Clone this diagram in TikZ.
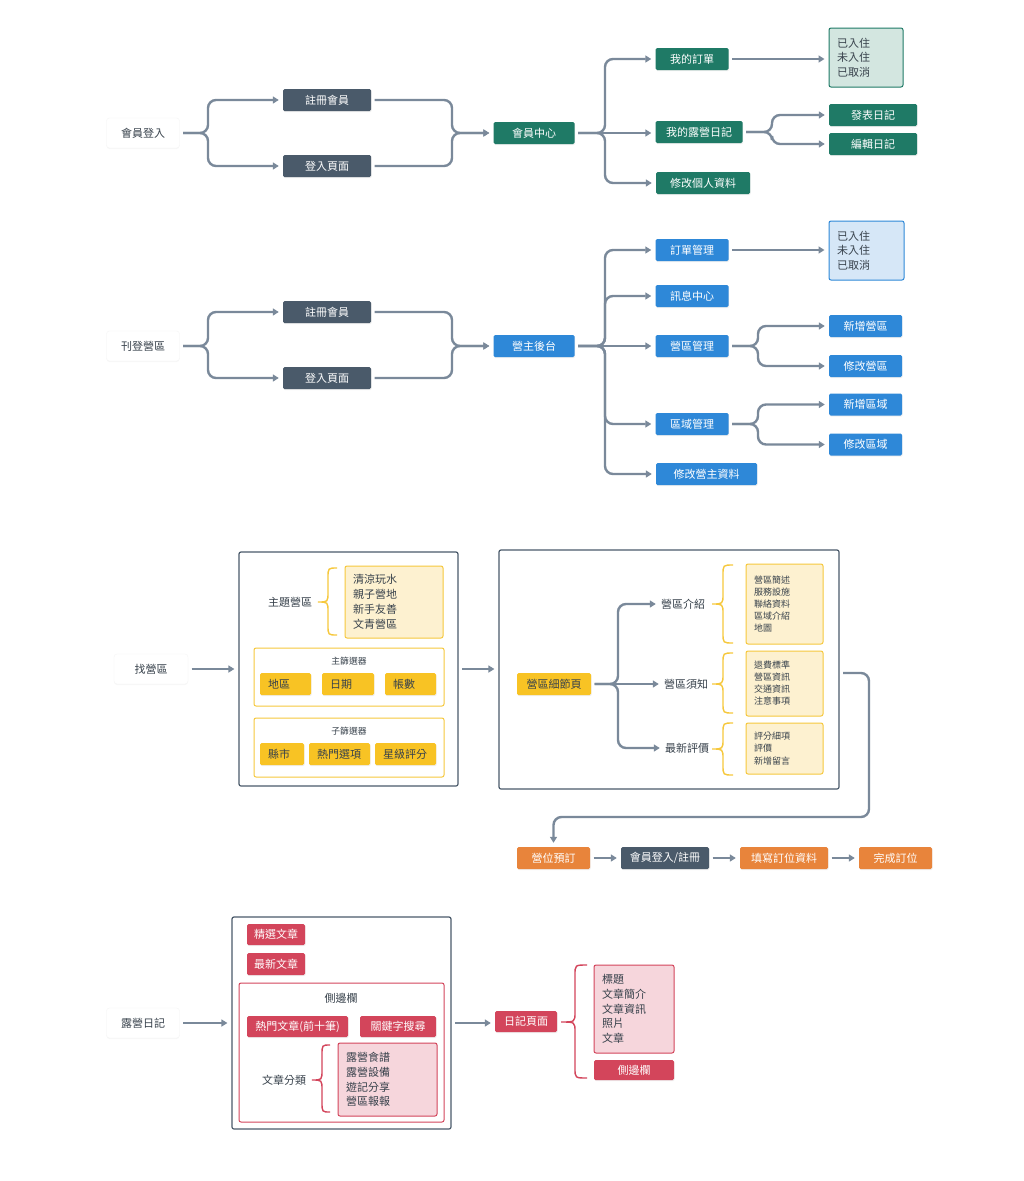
\documentclass[tikz,border=0pt]{standalone}
\usepackage{fontspec}
\setmainfont{Noto Sans CJK TC}
\usetikzlibrary{arrows.meta,shadows,calc}
\definecolor{slateC}{HTML}{4A5A6A}
\definecolor{lineC}{HTML}{7A899A}
\definecolor{greenC}{HTML}{1F7A66}
\definecolor{greenL}{HTML}{D3E6E0}
\definecolor{blueC}{HTML}{2E88D8}
\definecolor{blueL}{HTML}{D6E7F7}
\definecolor{yelC}{HTML}{F8C324}
\definecolor{yelL}{HTML}{FDF1D0}
\definecolor{yelB}{HTML}{F6C83D}
\definecolor{oraC}{HTML}{E8843B}
\definecolor{redC}{HTML}{D3455B}
\definecolor{pinkL}{HTML}{F6D6DC}
\definecolor{txtC}{HTML}{37414B}
\newcommand\mybrace[7]{\draw[#1] (#2,#5) .. controls (#3,#5) .. ({#3},{#5+10}) -- ({#3},{#6-10}) .. controls (#3,#6) .. (#4,#6) .. controls (#3,#6) .. ({#3},{#6+10}) -- ({#3},{#7-10}) .. controls (#3,#7) .. (#2,#7);}
\tikzset{
 f/.style={font=\fontsize{11}{12}\selectfont},
 fs/.style={font=\fontsize{8.8}{12}\selectfont},
 shad/.style={drop shadow={opacity=0.12,shadow xshift=0.6pt,shadow yshift=-1.2pt}},
 btn/.style={f, shad, rounded corners=1.5pt, minimum height=22pt, inner sep=0pt, text=white},
 slatebtn/.style={btn, fill=slateC},
 greenbtn/.style={btn, fill=greenC},
 bluebtn/.style={btn, fill=blueC},
 orabtn/.style={btn, fill=oraC},
 redbtn/.style={btn, fill=redC},
 yelbtn/.style={btn, fill=yelC, text=txtC},
 startbox/.style={f, fill=white, draw=black!4, rounded corners=3pt, minimum height=30pt, minimum width=73pt, inner sep=0pt, text=txtC, drop shadow={opacity=0.06, shadow xshift=0pt, shadow yshift=-1pt}},
 conn/.style={draw=lineC, line width=2.4pt, rounded corners=8pt, -{Triangle[length=6pt,width=7pt]}, shorten <=3.5pt, shorten >=4pt},
 bigbox/.style={draw=slateC, line width=1.2pt, rounded corners=2pt, fill=white, inner sep=0pt},
 framebox/.style={line width=1pt, rounded corners=2pt, inner sep=0pt, fill=white},
 listbox/.style={align=left, inner xsep=8pt, inner ysep=0pt, rounded corners=2pt, line width=1pt, text=txtC},
 lbl/.style={f, text=txtC, inner sep=1pt},
 ybr/.style={draw=yelB, line width=1.4pt},
 rbr/.style={draw=redC, line width=1.4pt},
}
\begin{document}
\begin{tikzpicture}[x=1pt,y=-1pt]
\fill[white] (0,0) rectangle (1024,1181);
\useasboundingbox (0,0) rectangle (1024,1181);

% ---------- Section 1 ----------
\node[startbox] (login) at (143,133) {會員登入};
\node[slatebtn, minimum width=88pt] (reg1) at (327,100) {註冊會員};
\node[slatebtn, minimum width=88pt] (lp1) at (327,166) {登入頁面};
\node[greenbtn, minimum width=81pt] (mc) at (534,133) {會員中心};
\node[greenbtn, minimum width=73pt] (myo) at (692,59) {我的訂單};
\node[greenbtn, minimum width=87pt] (myd) at (699,132) {我的露營日記};
\node[greenbtn, minimum width=94pt] (mye) at (703,183) {修改個人資料};
\node[listbox, fill=greenL, draw=greenC, text width=58pt, minimum height=59pt, font=\fontsize{11}{14.5}\selectfont] (st1) at (866,57.5) {已入住\\未入住\\已取消};
\node[greenbtn, minimum width=88pt] (pub) at (873,115) {發表日記};
\node[greenbtn, minimum width=88pt] (edt) at (873,144) {編輯日記};

\draw[conn] (login.east) -- (208,133) |- (reg1.west);
\draw[conn] (login.east) -- (208,133) |- (lp1.west);
\draw[conn] (reg1.east) -| (452,133) -- (mc.west);
\draw[conn] (lp1.east) -| (452,133) -- (mc.west);
\draw[conn] (mc.east) -- (605,133) |- (myo.west);
\draw[conn] (mc.east) -- (mc.east -| myd.west);
\draw[conn] (mc.east) -- (605,133) |- (mye.west);
\draw[conn] (myo.east) -- (myo.east -| st1.west);
\draw[conn] (myd.east) -- (772,132) |- (pub.west);
\draw[conn] (myd.east) -- (772,132) |- (edt.west);

% ---------- Section 2 ----------
\node[startbox] (post) at (143,346) {刊登營區};
\node[slatebtn, minimum width=88pt] (reg2) at (327,312) {註冊會員};
\node[slatebtn, minimum width=88pt] (lp2) at (327,378) {登入頁面};
\node[bluebtn, minimum width=81pt] (host) at (534,346) {營主後台};
\node[bluebtn, minimum width=73pt] (ord) at (692,250) {訂單管理};
\node[bluebtn, minimum width=73pt] (msg) at (692,296) {訊息中心};
\node[bluebtn, minimum width=73pt] (camp) at (692,346) {營區管理};
\node[bluebtn, minimum width=73pt] (area) at (692,424) {區域管理};
\node[bluebtn, minimum width=101pt] (hed) at (706.5,474) {修改營主資料};
\node[listbox, fill=blueL, draw=blueC, text width=59pt, minimum height=59pt, font=\fontsize{11}{14.5}\selectfont] (st2) at (866.5,250.5) {已入住\\未入住\\已取消};
\node[bluebtn, minimum width=73pt] (nc) at (865.5,326) {新增營區};
\node[bluebtn, minimum width=73pt] (ec) at (865.5,366) {修改營區};
\node[bluebtn, minimum width=73pt] (na) at (865.5,404.5) {新增區域};
\node[bluebtn, minimum width=73pt] (ea) at (865.5,444.5) {修改區域};

\draw[conn] (post.east) -- (208,346) |- (reg2.west);
\draw[conn] (post.east) -- (208,346) |- (lp2.west);
\draw[conn] (reg2.east) -| (452,346) -- (host.west);
\draw[conn] (lp2.east) -| (452,346) -- (host.west);
\draw[conn] (host.east) -- (605,346) |- (ord.west);
\draw[conn] (host.east) -- (605,346) |- (msg.west);
\draw[conn] (host.east) -- (camp.west);
\draw[conn] (host.east) -- (605,346) |- (area.west);
\draw[conn] (host.east) -- (605,346) |- (hed.west);
\draw[conn] (ord.east) -- (ord.east -| st2.west);
\draw[conn] (camp.east) -- (758,346) |- (nc.west);
\draw[conn] (camp.east) -- (758,346) |- (ec.west);
\draw[conn] (area.east) -- (758,424) |- (na.west);
\draw[conn] (area.east) -- (758,424) |- (ea.west);

% ---------- Section 3 ----------
\node[startbox, minimum width=74pt] (find) at (151,669) {找營區};
\node[bigbox, minimum width=219pt, minimum height=234pt] (lb) at (348.5,669) {};
\node[lbl] (theme) at (290,602) {主題營區};
\mybrace{ybr}{337}{328}{318}{568}{602}{635}
\node[listbox, fill=yelL, draw=yelB, text width=82pt, minimum height=72pt, font=\fontsize{11}{15}\selectfont] (themes) at (394,602) {清涼玩水\\親子營地\\新手友善\\文青營區};
\node[framebox, draw=yelB, minimum width=190pt, minimum height=58pt] (mf) at (349,677) {};
\node[fs, text=txtC] (mft) at (349,661) {主篩選器};
\node[yelbtn, minimum width=51pt, text width=35pt, align=left] (b1) at (285.5,684) {地區};
\node[yelbtn, minimum width=52pt, text width=36pt, align=left] (b2) at (348,684) {日期};
\node[yelbtn, minimum width=51pt, text width=35pt, align=left] (b3) at (410.5,684) {帳數};
\node[framebox, draw=yelB, minimum width=190pt, minimum height=59pt] (sf) at (349,747.5) {};
\node[fs, text=txtC] (sft) at (349,731) {子篩選器};
\node[yelbtn, minimum width=44pt, text width=28pt, align=left] (b4) at (282,754) {縣市};
\node[yelbtn, minimum width=61pt, text width=45pt, align=left] (b5) at (339.5,754) {熱門選項};
\node[yelbtn, minimum width=61pt, text width=45pt, align=left] (b6) at (405.5,754) {星級評分};
\draw[conn] (find.east) -- (lb.west);

\node[bigbox, minimum width=340pt, minimum height=239pt] (rb) at (669,669.5) {};
\draw[conn] (lb.east) -- (lb.east -| rb.west);
\node[yelbtn, minimum width=74pt] (detail) at (554,684) {營區細節頁};
\node[lbl] (intro) at (683,604) {營區介紹};
\node[lbl] (rules) at (686,684) {營區須知};
\node[lbl] (rev) at (687,748) {最新評價};
\draw[conn] (detail.east) -- (618,684) |- (intro.west);
\draw[conn] (detail.east) -- (rules.west);
\draw[conn] (detail.east) -- (618,684) |- (rev.west);
\mybrace{ybr}{733}{723}{712}{565}{604}{643}
\mybrace{ybr}{733}{723}{712}{653}{684}{713}
\mybrace{ybr}{733}{723}{712}{723}{749}{775}
\node[listbox, fill=yelL, draw=yelB, text width=61pt, minimum height=80pt, font=\fontsize{9}{12}\selectfont] (l1) at (784.5,604) {營區簡述\\服務設施\\聯絡資料\\區域介紹\\地圖};
\node[listbox, fill=yelL, draw=yelB, text width=61pt, minimum height=65pt, font=\fontsize{9}{12}\selectfont] (l2) at (784.5,683.5) {退費標準\\營區資訊\\交通資訊\\注意事項};
\node[listbox, fill=yelL, draw=yelB, text width=61pt, minimum height=51pt, font=\fontsize{9}{12.5}\selectfont] (l3) at (784.5,748.5) {評分細項\\評價\\新增留言};

\node[orabtn, minimum width=73pt] (bk) at (553.5,858) {營位預訂};
\node[slatebtn, minimum width=88pt] (ml) at (665,858) {會員登入/註冊};
\node[orabtn, minimum width=88pt] (fl) at (784,858) {填寫訂位資料};
\node[orabtn, minimum width=73pt] (dn) at (895.5,858) {完成訂位};
\draw[conn] ([yshift=-3.5pt]rb.east) -| (869,817) -| (bk.north);
\draw[conn] (bk.east) -- (ml.west);
\draw[conn] (ml.east) -- (fl.west);
\draw[conn] (fl.east) -- (dn.west);

% ---------- Section 4 ----------
\node[startbox] (diary) at (143,1023) {露營日記};
\node[bigbox, minimum width=219pt, minimum height=212pt] (db) at (341.5,1023) {};
\node[redbtn, minimum width=58pt, minimum height=21pt] (feat) at (276,934.5) {精選文章};
\node[redbtn, minimum width=58pt] (newa) at (276,964) {最新文章};
\node[framebox, draw=redC, minimum width=205pt, minimum height=139pt] (sb) at (341.5,1052.5) {};
\node[lbl] (sbt) at (341,998) {側邊欄};
\node[redbtn, minimum width=101pt, minimum height=21pt] (hot) at (297.5,1026.5) {熱門文章(前十筆)};
\node[redbtn, minimum width=76pt, minimum height=21pt] (kw) at (398,1026.5) {關鍵字搜尋};
\node[lbl] (cat) at (284,1080) {文章分類};
\mybrace{rbr}{330}{322}{312}{1045}{1080}{1112}
\node[listbox, fill=pinkL, draw=redC, text width=83pt, minimum height=73pt, font=\fontsize{11}{14.8}\selectfont] (cats) at (387.5,1079.5) {露營食譜\\露營設備\\遊記分享\\營區報報};
\draw[conn] (diary.east) -- (db.west);
\node[redbtn, minimum width=62pt, minimum height=21pt] (page) at (526,1021.5) {日記頁面};
\draw[conn] (db.east) -- (db.east -| page.west);
\mybrace{rbr}{587}{575}{561}{965}{1022}{1078}
\node[listbox, fill=pinkL, draw=redC, text width=64pt, minimum height=88pt, font=\fontsize{11}{14.7}\selectfont] (pc) at (634,1009) {標題\\文章簡介\\文章資訊\\照片\\文章};
\node[redbtn, minimum width=80pt, minimum height=20pt] (side2) at (634,1070) {側邊欄};
\end{tikzpicture}
\end{document}
